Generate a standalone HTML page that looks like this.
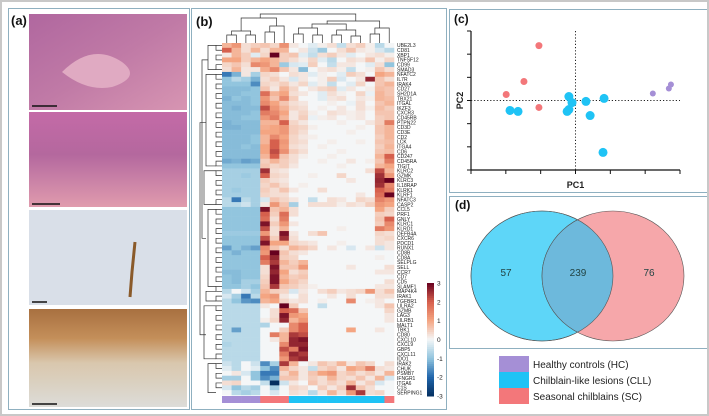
<!DOCTYPE html>
<html><head><meta charset="utf-8"><style>
html,body{margin:0;padding:0;background:#fff;}
#fig{position:relative;width:709px;height:416px;overflow:hidden;font-family:"Liberation Sans",sans-serif;background:#fff;}
.panel{position:absolute;border:1.5px solid #8fb0c0;box-sizing:border-box;background:#fff;}
.plabel{position:absolute;font-weight:bold;font-size:13px;color:#111;}
</style></head><body>
<div id="fig" style="border:2px solid #c8c8c8;box-sizing:border-box;">
  <div class="panel" style="left:6px;top:6px;width:182px;height:402px;"></div>
  <div class="plabel" style="left:9px;top:11px;">(a)</div>
  <svg style="position:absolute;left:0;top:0" width="709" height="416">
    <defs>
      <linearGradient id="he1" x1="0" y1="0" x2="1" y2="1"><stop offset="0" stop-color="#b0679f"/><stop offset="0.5" stop-color="#c07aa6"/><stop offset="1" stop-color="#d795b2"/></linearGradient>
      <linearGradient id="he2" x1="0" y1="0" x2="0" y2="1"><stop offset="0" stop-color="#c46aa7"/><stop offset="0.45" stop-color="#b4689e"/><stop offset="0.7" stop-color="#c880a6"/><stop offset="1" stop-color="#e09bad"/></linearGradient>
      <linearGradient id="ihc2" x1="0" y1="0" x2="0" y2="1"><stop offset="0" stop-color="#a87040"/><stop offset="0.3" stop-color="#c48f5a"/><stop offset="0.55" stop-color="#d9c7ad"/><stop offset="1" stop-color="#dcdcd8"/></linearGradient>
    </defs>
    <rect x="27" y="12" width="158" height="96" fill="url(#he1)"/>
    <path d="M60 70 Q90 40 120 60 Q140 75 110 85 Q85 90 60 70Z" fill="#e0aac2"/>
    <line x1="30" y1="104" x2="55" y2="104" stroke="#111" stroke-width="1.5"/>
    <rect x="27" y="110" width="158" height="95" fill="url(#he2)"/>
    <line x1="30" y1="202" x2="58" y2="202" stroke="#111" stroke-width="1.5"/>
    <rect x="27" y="208" width="158" height="95" fill="#d9dfe8"/>
    <path d="M133 240 L130 270 L128 295" stroke="#8a5a2a" stroke-width="3" fill="none"/>
    <line x1="30" y1="300" x2="45" y2="300" stroke="#111" stroke-width="1.5"/>
    <rect x="27" y="307" width="158" height="98" fill="url(#ihc2)"/>
    <line x1="30" y1="402" x2="55" y2="402" stroke="#111" stroke-width="1.5"/>
  </svg>

  <div class="panel" style="left:189px;top:6px;width:256px;height:402px;"></div>
  <div class="plabel" style="left:194px;top:12px;">(b)</div>
  <svg id="hm" style="position:absolute;left:0;top:0" width="709" height="416"></svg>

  <div class="panel" style="left:447px;top:7px;width:259px;height:184px;"></div>
  <div class="plabel" style="left:452px;top:10px;font-size:12px;">(c)</div>
  <svg id="pca" style="position:absolute;left:0;top:0" width="709" height="416"></svg>

  <div class="panel" style="left:447px;top:194px;width:259px;height:153px;"></div>
  <div class="plabel" style="left:453px;top:196px;font-size:12px;">(d)</div>
  <svg style="position:absolute;left:0;top:0" width="709" height="416">
    <ellipse cx="540" cy="274" rx="71" ry="65" fill="#5ed6f8" stroke="#555" stroke-width="0.6"/>
    <ellipse cx="611" cy="274" rx="71" ry="65" fill="#f6a7aa" stroke="#555" stroke-width="0.6"/>
    <clipPath id="cl"><ellipse cx="540" cy="274" rx="71" ry="65"/></clipPath>
    <ellipse cx="611" cy="274" rx="71" ry="65" fill="#6db9dc" stroke="#555" stroke-width="0.6" clip-path="url(#cl)"/>
    <ellipse cx="540" cy="274" rx="71" ry="65" fill="none" stroke="#555" stroke-width="0.6"/>
    <g font-size="10" fill="#244" text-anchor="middle">
      <text x="504" y="274">57</text>
      <text x="576" y="274">239</text>
      <text x="647" y="274">76</text>
    </g>
    <g font-size="10" fill="#222">
      <rect x="497" y="354" width="30" height="16" fill="#a58fd6"/>
      <text x="531" y="366">Healthy controls (HC)</text>
      <rect x="497" y="370" width="30" height="16" fill="#1fc3f5"/>
      <text x="531" y="382">Chilblain-like lesions (CLL)</text>
      <rect x="497" y="386" width="30" height="16" fill="#f3777a"/>
      <text x="531" y="398">Seasonal chilblains (SC)</text>
    </g>
  </svg>
</div>
<script>
// ---------- Heatmap data ----------
const genes = ["UBE2L3","CD81","XBP1","TNFSF12","CD99","SMAD3","NFATC2","IL7R","IRAK4","CD27","SH2D1A","TBX21","ITGAL","IKZF3","CXCR3","CD45RB","PTPN22","CD3D","CD3E","CD2","LCK","ITGA4","CD6","CD247","CD45RA","TIGIT","KLRC2","GZMK","KLRC3","IL18RAP","KLRK1","KLRF1","NFATC3","CASP2","CCL5","PRF1","GNLY","KLRC1","KLRD1","DEFB4A","CXCR6","PDCD1","RUNX1","CD8B","CD8A","SELPLG","SELL","CCR7","CD7","CD5","SLAMF1","MAP4K4","IRAK1","TGFBR1","LILRA2","GZMB","LAG3","LILRB1","MALT1","TBK1","CD80","CXCL10","CXCL9","GBP5","CXCL11","IDO1","IRAK2","CHUK","PSMB7","IFNGR1","ITGA6","C1S","SERPING1"];
const sampleGroups = ["HC","HC","HC","HC","SC","SC","SC","CLL","CLL","CLL","CLL","CLL","CLL","CLL","CLL","CLL","CLL","SC"];
const colorbarTicks = [3,2,1,0,-1,-2,-3];
const values = [
[0.8,1.2,0.3,0.5,0.6,0.4,1.3,0.2,0,-0.2,0.1,0.3,-0.5,0.3,0.5,0.1,-0.6,0],
[2,0.8,0.3,0.8,0.3,0.8,0.8,0,0.2,-0.4,-0.9,0,0.3,0.6,0.2,0.1,-0.3,-0.6],
[0.2,0.8,0.5,-0.2,0.4,3,0.5,0.6,-0.2,-0.5,0.3,0.5,0.2,-0.2,0,0.2,0.3,0.1],
[1,1,0.5,0.8,1,0.8,0.5,0.3,0.1,0.4,-0.2,-0.6,0,0.3,0.2,0.6,0.1,0.4],
[0.4,0.6,0.3,1.4,1.2,0.8,-0.9,-0.3,-0.2,0.5,0,-0.5,0.2,0.2,0,-0.2,0.3,-1],
[0.3,0.8,0.2,0.2,0.9,1.4,0.6,0.2,-1.1,0,0.2,0.3,0.1,-0.5,0,0.1,0.6,0.3],
[-1.8,-1.2,0.2,-0.8,0.4,0.3,0,0.3,0.2,-0.2,0.1,0,-0.2,0.5,0.3,0,1,0.8],
[-1,-0.6,-0.8,-1.2,0.3,0.5,0.2,-0.3,0.2,0,0.1,0.5,-0.3,0,0.2,2.6,0.6,0.3],
[-1,-1,-1,-1.6,0.4,0.3,0.5,0.2,0.4,-0.2,0.1,-0.5,0,-0.2,0.4,0,0.6,0.8],
[-1.1,-1.1,-1.1,-1,0.6,0.2,0.8,0.4,0,0.2,0.4,0.5,-0.2,0.2,0,0.1,0.7,0.6],
[-1.1,-1.1,-1,-1,1.8,0.8,1,0.3,0.2,0,-0.2,0.3,0.1,0,0.4,-0.1,0.8,0.6],
[-1.2,-1,-1.1,-1,1.2,0.6,1.4,0.5,0,0,-0.2,0.2,0.3,0,0.2,0.1,0.8,0.7],
[-1.1,-1.1,-1.1,-1,1.4,1,0.6,0.3,0.2,0,0,0.1,0,-0.1,0.3,0,0.6,0.8],
[-1.1,-1.2,-1.1,-1.1,2.2,1.2,0.8,0.4,0.3,0,0.1,0,0.2,0,0.3,0.1,0.7,0.5],
[-1.1,-1.1,-1.1,-1,1.6,1.4,1,0.2,0.4,0.1,0,0.3,0.2,0.1,0.2,0,0.6,0.6],
[-1.1,-1.1,-1,-1,1.2,1.6,0.8,0.2,0.5,-0.1,0.1,0.2,0,0.1,0.2,0,0.5,0.6],
[-1.2,-1.1,-1.1,-1.1,0.8,0.8,2,0.4,0.2,0,0,0,0.1,0,0,0.2,0.5,1.6],
[-1.2,-1.2,-1.1,-1.1,0.9,1,1.2,0.5,0.4,0.1,0,0,0,0,0.1,0,0.6,0.8],
[-1.1,-1.1,-1.1,-1.1,1,1,1.2,0.5,0.3,0,0,0,0,0.1,0,0,0.6,0.8],
[-1.1,-1.1,-1.1,-1,0.8,1.4,1,0.4,0.2,0.1,0,0,0,0,0,0,0.5,0.8],
[-1.1,-1.1,-1.1,-1,0.8,2,1.2,0.4,0.3,0,0,0.1,0,0,0.1,0,0.6,0.7],
[-1.1,-1.1,-1,-1.1,1,2,1.1,0.3,0.2,0,0.1,0,0,0,0,0,0.5,0.8],
[-1.1,-1.1,-1.1,-1.1,1,2.2,1.3,0.5,0.3,0,0,0,0.1,0,0,0,0.6,0.7],
[-1.1,-1.1,-1.1,-1.1,0.8,2,0.6,0.3,0.1,0,0,0.1,0,0,0,0,0.8,2],
[-1.3,-1.2,-1.4,-1.3,0.5,0.8,0.5,0.3,0,0,0.1,0,0,0.2,0,0.1,0.6,1.6],
[-1,-1,-1,-1,0.6,0.4,0.5,0.2,0,0,0,0,0.1,0,0,0,0.8,1],
[-0.8,-0.8,-0.8,-0.8,2.5,0.3,0.2,0,0,0,0,0,0,0,0,0.3,2.2,0.8],
[-0.8,-0.8,-0.9,-0.8,2,0.4,0.3,0,0,0.1,0,0,0.4,0,0,0,2.5,1.2],
[-0.8,-0.8,-0.8,-0.8,0.5,0.3,0.2,0,0,0,0,0,0,0.2,0,0,2.6,3],
[-0.8,-0.8,-0.8,-0.8,0.4,0.6,0.3,0,0.1,0,0,0,0,0,0,0,2.5,1.4],
[-0.8,-0.9,-0.8,-0.8,0.5,0.3,0.6,0.2,0,0,0.3,0,0,0,0,0,2,1.6],
[-0.8,-0.8,-0.8,-0.8,0.4,0.3,0.3,0,0,0,0,0,0,0,0.2,0,1.8,3],
[-0.6,-1.8,-0.6,-0.8,-0.3,0.6,0.4,0.2,0,-0.5,0,0.3,0.2,0,0.4,0.3,1.5,1.2],
[-0.6,-0.6,-0.4,-0.8,0.2,1.2,0.6,-0.8,0,0.3,0.3,0.3,0.1,0.3,0.2,0.5,1.2,1],
[-1,-1,-1,-1,2.8,0.6,0.8,0.3,0,0,0,0,0,0,0,0,1,0.5],
[-1,-1,-1,-1,2,0.5,1.8,0.3,0,0,0,0,0,0,0,0,0.5,0.4],
[-1,-1,-1,-1,1.8,0.3,1.6,0,0,0,0,0,0,0,0,0,0.6,2],
[-1,-1,-1,-1,2.8,0.5,1.2,0.2,0,0,0,0,0,0,0,0,0.5,1.4],
[-1,-1,-1,-1,2.2,0.3,0.8,0,0,0,0,0,0.1,0,0,0,1.6,1.2],
[-0.9,-0.9,-0.9,-0.9,1.2,0.3,2.8,0.2,0,0.3,0.6,0,0,0,0,0,0.4,0.3],
[-1,-1,-1,-1,2.2,0.5,2.5,0.3,0,0,0,0,0,0,0,0,0.3,0.4],
[-1,-1,-1,-1,2.8,1,1,0.4,0.3,0.2,0,0,0.1,0,0,0,0.3,0.2],
[-1.4,-1,-1.2,-1.4,1.4,0.6,0.3,0.8,0.6,0.4,0,0.2,0,-0.3,0,0.2,-0.4,0.2],
[-1,-1.2,-1,-1,1.2,3,0.6,0.3,0.2,0,0,0,0,0,0,0,0,0],
[-1,-1,-1,-1,2,2.6,0.5,0.4,0,0,0,0,0,0,0,0,0.1,0],
[-1,-1,-1,-1,1.6,2.4,0.8,0.5,0.8,0,0,0,0,0,0,0,0,0],
[-1,-1,-1,-1,0.3,2.8,0.6,0.6,1.2,0,0,0,0,0.2,0,0,0,0.3],
[-1.1,-1.1,-1,-1,0.3,2.6,1,0.3,0.5,0,0,0,0,0,0,0,0.2,0.2],
[-1,-1.1,-1,-1,0.4,2.8,0.8,0.5,0.6,0,0,0,0,0,0,0,0,0],
[-1,-1.1,-0.8,-0.8,0.5,2.8,1,0.6,0.4,0,0,0,0,0,0,0,0,0.3],
[-1,-1,-0.8,-1,0.6,2.4,0.6,0.5,0.3,0.1,0,0,0,0,0,0,0.2,0.2],
[-0.6,0,-0.4,-0.8,0.8,0.5,0.4,-0.3,0.2,0,0.3,0.5,0.2,0.3,0.4,1.2,0.3,0.6],
[-0.3,-0.8,-1.8,-0.6,1,1.2,0.2,0,0.3,0,0,0.2,0,0.3,0,0,0.3,0.3],
[-0.6,-1,-1.5,-1.6,0.8,1,0.4,0.2,0.3,0,0.1,0,0,1.4,0,0.1,0.2,0],
[-0.6,-0.6,-0.6,-0.6,0.2,0,3,0.5,0,0,-0.5,0,0,0,0,0,0.2,0.6],
[-0.6,-0.6,-0.6,-0.6,0,0.3,2,1.8,0.6,0,0,0,0,0,0,0,0,0.4],
[-0.6,-0.6,-0.6,-0.6,0,0.3,2.8,1.2,1,0,0,0,0,0,0,0,0,0.2],
[-0.6,-0.6,-0.6,-0.6,0.1,0.4,2.6,0.8,1.2,0,0,0,0,0,0,0,0,0.2],
[-0.6,-0.6,-0.6,-0.6,-0.7,0,0,1.4,2,0,0,0,0,0,0,0,0,0],
[-0.6,-1.4,-0.6,-0.6,0,0,0.5,1.4,2,0,0,0,0,1,0,0,0.2,0],
[-0.6,-0.6,-0.6,-0.6,0,1.6,0.8,2.4,2.2,0,0,0,0,0,0,0,0,0],
[-0.6,-0.6,-0.6,-0.6,0,0.2,0.8,2.6,2.8,0,0,0,0,0,0,0,0,0],
[-0.7,-0.6,-0.6,-0.6,0,0,1.4,2.6,2.6,0,0,0,0,0,0,0,0,0],
[-0.6,-0.6,-0.6,-0.6,0,0,2.2,1.6,2.8,0,0,0,0,0,0,0,0,0],
[-0.6,-0.6,-0.6,-0.6,0,0,1.6,2.6,2.4,0,0,0,0,0,0,0,0,0],
[-0.6,-0.6,-0.6,-0.6,0,0,1.2,2.4,2.6,0,0,0,0,0,0,0,0,0],
[-0.4,-0.6,0,-0.4,-1.6,-0.8,2.4,0.8,0,0.2,0.6,0.4,0.8,0.2,0.6,0.4,0,0.3],
[-0.2,-0.6,0,-0.2,-1,-1.6,0.8,0.4,0.2,-0.5,0.4,0.6,0.2,1,0.8,1.6,0.3,0.2],
[0,0.2,-0.3,-1,-1.8,-1.8,0.4,0.8,0.2,0.6,1,1.2,0.4,0.6,0.3,0.5,0.2,0.8],
[-0.8,-0.8,0,-1,-1.6,-1.2,0.6,0.6,0.2,0.5,0.3,0.8,0.4,0.3,0.6,0.2,0.8,-0.3],
[0.3,0.4,0,0,-0.5,-3,-0.4,0.2,0,0.6,0.3,0.5,0.3,0.8,0.2,0.5,-0.3,0],
[-0.3,-1,-0.6,-0.8,0,-0.8,0,0.4,0.3,0,0.5,0.2,0.5,2.5,0.6,0.3,0,0],
[0,-0.6,-0.8,-0.6,0,-0.3,0,0.3,0.2,-0.6,0.2,0.8,0.3,1.2,2.4,0.3,0.4,0]
];
// ---------- PCA data ----------
const pcaGroups = ["SC","SC","SC","SC","CLL","CLL","CLL","CLL","CLL","CLL","CLL","CLL","CLL","CLL","HC","HC","HC"];
const pc1 = [-1.05,-1.48,-1.99,-1.05,-1.88,-1.65,-0.19,-0.10,-0.19,-0.24,0.30,0.82,0.42,0.79,2.22,2.68,2.74];
const pc2 = [2.37,0.82,0.26,-0.30,-0.43,-0.47,0.17,-0.09,-0.39,-0.47,-0.04,0.09,-0.65,-2.24,0.30,0.52,0.69];
const pcTicks = [-3,-2,-1,0,1,2,3];

const NS='http://www.w3.org/2000/svg';
function mk(parent,tag,attrs){const e=document.createElementNS(NS,tag);for(const k in attrs)e.setAttribute(k,attrs[k]);parent.appendChild(e);return e;}
const groupColor={HC:'#a58fd6',CLL:'#1fc3f5',SC:'#f3777a'};

const hmX0=220,hmX1=392,hmY0=41,hmY1=393;
const cw=(hmX1-hmX0)/sampleGroups.length, rh=(hmY1-hmY0)/genes.length;
const xCol=i=>hmX0+i*cw, yRow=j=>hmY0+j*rh;
const stops=[[-3,[5,48,97]],[-2,[33,102,172]],[-1,[146,197,222]],[0,[244,246,247]],[1,[244,165,130]],[2,[214,96,77]],[3,[103,0,31]]];
function col(v){v=Math.max(-3,Math.min(3,v));for(let i=0;i<stops.length-1;i++){const[a,ca]=stops[i],[b,cb]=stops[i+1];if(v<=b){const t=(v-a)/(b-a);return 'rgb('+ca.map((c,k)=>Math.round(c+(cb[k]-c)*t)).join(',')+')';}}return 'rgb(103,0,31)';}
const hm=document.getElementById('hm');
values.forEach((row,j)=>row.forEach((v,i)=>{
  const r=mk(hm,'rect',{x:xCol(i),y:yRow(j),width:cw+0.3,height:rh+0.3,fill:col(v)});
  
  
}));
genes.forEach((g,j)=>{
  const t=mk(hm,'text',{x:395,y:yRow(j)+rh-0.6,'font-size':'5','fill':'#222'});
  t.textContent=g;
  
  
});
sampleGroups.forEach((g,i)=>{
  const r=mk(hm,'rect',{x:xCol(i),y:hmY1+1,width:cw+0.3,height:7,fill:groupColor[g]});
  
  
});
const dg=mk(hm,'g',{stroke:'#333','stroke-width':'0.7',fill:'none'});


const cx=i=>xCol(i)+cw/2;
[[0,1,36,33],[2,3,36,33],[4,5,38,30],[7,8,38,32],[9,10,38,33],[11,12,38,33],[13,14,38,34],[15,16,38,32]].forEach(([a,b,y0,y1])=>mk(dg,'path',{d:`M${cx(a)} 41V${y1}H${cx(b)}V41`}));
mk(dg,'path',{d:`M${(cx(0)+cx(1))/2} 33V29H${(cx(2)+cx(3))/2}V33`});
mk(dg,'path',{d:`M${(cx(4)+cx(5))/2} 30V24H${cx(6)}V41`});
mk(dg,'path',{d:`M${(cx(0)+cx(3))/2} 29V16H${(cx(4)+cx(6))/2+2}V24`});
mk(dg,'path',{d:`M${(cx(7)+cx(8))/2} 32V26H${(cx(9)+cx(10))/2}V33`});
mk(dg,'path',{d:`M${(cx(11)+cx(12))/2} 33V28H${(cx(13)+cx(14))/2}V34`});
mk(dg,'path',{d:`M${(cx(8)+cx(9))/2+4} 26V22H${(cx(12)+cx(13))/2}V28`});
mk(dg,'path',{d:`M${(cx(15)+cx(16))/2} 32V26H${cx(17)}V41`});
mk(dg,'path',{d:`M${(cx(10)+cx(11))/2} 22V19H${(cx(15)+cx(17))/2}V26`});
mk(dg,'path',{d:`M${(cx(2)+cx(5))/2} 16V12H${(cx(12)+cx(15))/2}V19`});
const rg=mk(hm,'g',{stroke:'#333','stroke-width':'0.7',fill:'none'});


const ry=j=>yRow(j)+rh/2;
for(let j=0;j<genes.length-1;j+=2){mk(rg,'path',{d:`M220 ${ry(j)}H${214}V${ry(j+1)}H220`});}
[[0,6],[6,26],[26,34],[34,51],[51,54],[54,66],[66,73]].forEach(([a,b],k)=>{
  const xx=206-(k%3)*2; mk(rg,'path',{d:`M214 ${ry(a)}H${xx}V${ry(b-1)}H214`});
});
mk(rg,'path',{d:`M206 ${ry(3)}H200V${ry(40)}H204`});
mk(rg,'path',{d:`M204 ${ry(16)}H198V${ry(60)}H204`});
const cbY0=281,cbY1=394;
const cbScale=v=>cbY0+(3-v)/6*(cbY1-cbY0);
for(let k=0;k<60;k++){const v=3-k*0.1;mk(hm,'rect',{x:425,y:cbScale(v),width:7,height:(cbY1-cbY0)/60+0.5,fill:col(v-0.05)});}
colorbarTicks.forEach(v=>{
  const t=mk(hm,'text',{x:435,y:cbScale(v)+2.5,'font-size':'6.5',fill:'#222'});
  t.textContent=v;
  
  
});

const pca=document.getElementById('pca');
const ax0=469,ax1=678,ay0=168,ay1=29;
const sx=v=>ax0+(v+3)/6*(ax1-ax0), sy=v=>ay0-(v+3)/6*(ay0-ay1);
mk(pca,'line',{x1:ax0,y1:ay1,x2:ax0,y2:ay0,stroke:'#111','stroke-width':1.2});
mk(pca,'line',{x1:ax0,y1:ay0,x2:ax1,y2:ay0,stroke:'#111','stroke-width':1.2});
pcTicks.forEach(v=>{
  mk(pca,'line',{x1:sx(v),y1:ay0,x2:sx(v),y2:ay0+4,stroke:'#111','stroke-width':1});
  mk(pca,'line',{x1:ax0-4,y1:sy(v),x2:ax0,y2:sy(v),stroke:'#111','stroke-width':1});
});
mk(pca,'line',{x1:sx(0),y1:ay1,x2:sx(0),y2:ay0,stroke:'#222','stroke-width':1,'stroke-dasharray':'1.2,2'});
mk(pca,'line',{x1:ax0,y1:sy(0),x2:ax1,y2:sy(0),stroke:'#222','stroke-width':1,'stroke-dasharray':'1.2,2'});
pc1.forEach((v,i)=>{
  const g=pcaGroups[i];
  const c=mk(pca,'circle',{cx:sx(v),cy:sy(pc2[i]),r:g==='CLL'?4.5:g==='SC'?3.5:3,fill:groupColor[g]});
  
  
});
const xl=mk(pca,'text',{x:sx(0),y:186,'font-size':'9','font-weight':'bold','text-anchor':'middle',fill:'#222'});
xl.textContent='PC1';


const yl=mk(pca,'text',{x:461,y:sy(0),'font-size':'9','font-weight':'bold','text-anchor':'middle',fill:'#222',transform:`rotate(-90 461 ${sy(0)})`});
yl.textContent='PC2';


</script>
</body></html>
